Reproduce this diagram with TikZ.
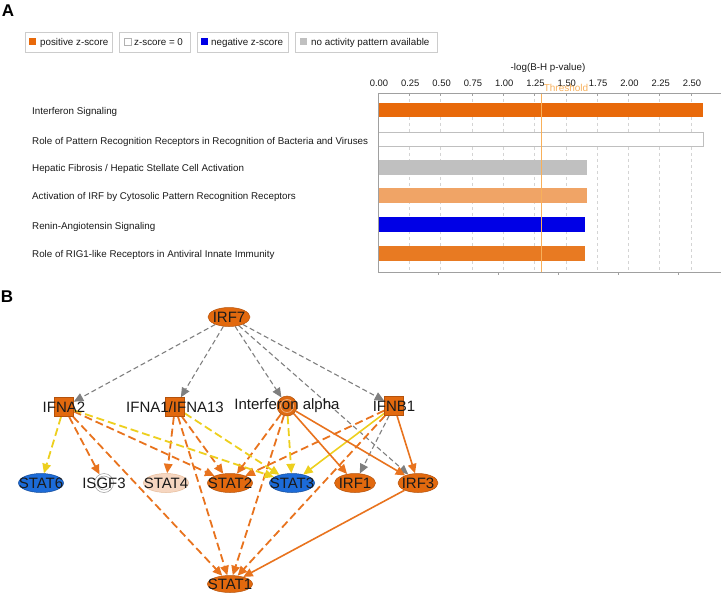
\documentclass[tikz,border=0pt]{standalone}
\usepackage{fontspec}
\setmainfont{Liberation Sans}
\usetikzlibrary{arrows.meta,shapes.geometric}
\pgfdeclarelayer{edges}
\pgfsetlayers{edges,main}
\definecolor{ipaorange}{HTML}{E2690E}
\definecolor{ipaedge}{HTML}{B4520C}
\definecolor{edgeorange}{HTML}{E8731E}
\definecolor{edgeyellow}{HTML}{EDCF1E}
\definecolor{edgegray}{HTML}{7F7F7F}
\definecolor{nodeblue}{HTML}{1C6BD8}
\definecolor{peach}{HTML}{F6D6C0}
\definecolor{barorange}{HTML}{E8690A}
\definecolor{barlight}{HTML}{F0A466}
\definecolor{barblue}{HTML}{0000E6}
\definecolor{bargray}{HTML}{C0C0C0}
\definecolor{barsix}{HTML}{E87A22}
\definecolor{thresh}{HTML}{F8B05A}
\definecolor{gridgray}{HTML}{D4D4D4}
\definecolor{axisgray}{HTML}{A0A0A0}
\definecolor{textdark}{HTML}{1A1A1A}
\tikzset{
  paneltag/.style={font=\fontsize{17}{19}\selectfont\bfseries, inner sep=0pt},
  smalltext/.style={font=\fontsize{9.8}{11}\selectfont, inner sep=0pt, text=textdark},
  ticktext/.style={font=\fontsize{9.4}{11}\selectfont, inner sep=0pt, text=textdark},
  legendframe/.style={draw=gray!40, line width=0.9pt, fill=white},
  every label/.style={font=\fontsize{15}{17}\selectfont, text=textdark, inner sep=0pt},
  ovalnode/.style={ellipse, minimum width=45pt, minimum height=19pt, inner sep=0pt, line width=0.5pt},
  orangeoval/.style={ovalnode, fill=ipaorange, draw=ipaedge},
  blueoval/.style={ovalnode, fill=nodeblue, draw=nodeblue!70!black},
  sqnode/.style={rectangle, minimum size=19pt, inner sep=0pt, fill=ipaorange, draw=ipaedge, line width=0.5pt},
  tip/.style={-{Triangle[length=9.5pt,width=8.5pt]}},
  grayedge/.style={tip, draw=edgegray, line width=1.1pt, dash pattern=on 5pt off 3pt},
  oradash/.style={tip, draw=edgeorange, line width=1.8pt, dash pattern=on 8pt off 4pt},
  orasolid/.style={tip, draw=edgeorange, line width=1.6pt},
  yeldash/.style={tip, draw=edgeyellow, line width=1.8pt, dash pattern=on 8pt off 4pt},
  yelsolid/.style={tip, draw=edgeyellow, line width=1.6pt},
}
\begin{document}
\begin{tikzpicture}[x=1pt,y=-1pt]
\useasboundingbox (0,0) rectangle (722,596);
% ---------------- Panel A ----------------
\node[paneltag, anchor=center] (tagA) at (8,11) {A};
% legend
\draw[legendframe] (25,32) rectangle (112,52);
\fill[barorange] (29,38) rectangle (36,45);
\node[smalltext, anchor=west] (lg1) at (40,42.5) {positive z-score};
\draw[legendframe] (119,32) rectangle (190,52);
\draw[gray!60, fill=white, line width=0.5pt] (124,38) rectangle (131,45);
\node[smalltext, anchor=west] (lg2) at (134,42.5) {z-score = 0};
\draw[legendframe] (197,32) rectangle (288,52);
\fill[barblue] (201,38) rectangle (208,45);
\node[smalltext, anchor=west] (lg3) at (211,42.5) {negative z-score};
\draw[legendframe] (295,32) rectangle (437,52);
\fill[bargray] (300,38) rectangle (307,45);
\node[smalltext, anchor=west] (lg4) at (311,42.5) {no activity pattern available};
% axis title and ticks
\node[smalltext] (axtitle) at (548,68) {-log(B-H p-value)};
\foreach \v [count=\k from 0] in {0.00,0.25,0.50,0.75,1.00,1.25,1.50,1.75,2.00,2.25,2.50}{
  \node[ticktext] (tk\k) at (379+31.3*\k,83) {\v};
}
% grid
\foreach \k in {1,...,10}{
  \draw[gridgray, dashed, line width=0.5pt] (378+31.3*\k,93) -- (378+31.3*\k,272);
  \draw[axisgray, line width=0.6pt] (378+31.3*\k,93) -- (378+31.3*\k,96);
}
\foreach \k in {1,...,5}{
  \draw[axisgray, line width=0.6pt] (378+60*\k,272) -- (378+60*\k,275);
}
% bars
\fill[barorange] (378,103) rectangle (703,117);
\draw[gray!50, fill=white, line width=0.7pt] (378,132) rectangle (703,146);
\fill[bargray] (378,160) rectangle (587,175);
\fill[barlight] (378,188) rectangle (587,203);
\fill[barblue] (378,217) rectangle (585,232);
\fill[barsix] (378,246) rectangle (585,261);
% threshold
\draw[thresh, line width=0.8pt] (541,93) -- (541,272);
\node[font=\fontsize{10}{12}\selectfont, text=thresh, inner sep=0pt] (thr) at (566,88) {Threshold};
% axes
\draw[axisgray, line width=0.8pt] (378,93) -- (721,93);
\draw[axisgray, line width=0.8pt] (378,93) -- (378,272) -- (721,272);
% row labels
\node[smalltext, anchor=west] (r1) at (32,112) {Interferon Signaling};
\node[smalltext, anchor=west] (r2) at (32,142) {Role of Pattern Recognition Receptors in Recognition of Bacteria and Viruses};
\node[smalltext, anchor=west] (r3) at (32,169) {Hepatic Fibrosis / Hepatic Stellate Cell Activation};
\node[smalltext, anchor=west] (r4) at (32,197) {Activation of IRF by Cytosolic Pattern Recognition Receptors};
\node[smalltext, anchor=west] (r5) at (32,227) {Renin-Angiotensin Signaling};
\node[smalltext, anchor=west] (r6) at (32,255) {Role of RIG1-like Receptors in Antiviral Innate Immunity};
% ---------------- Panel B ----------------
\node[paneltag, anchor=center] (tagB) at (7,297) {B};
\node[orangeoval, minimum width=42pt, label={center:IRF7}] (irf7) at (229,317) {};
\node[sqnode, label={center:IFNA2}] (ifna2) at (64,407) {};
\node[sqnode, label={center:IFNA1/IFNA13}] (ifna1) at (175,407) {};
\node[circle, minimum size=20pt, inner sep=0pt, fill=ipaorange!90!brown, draw=ipaedge, line width=0.5pt,
      path picture={\draw[ipaorange!55!white, line width=0.8pt] (path picture bounding box.center) circle (6.5pt);},
      label={center:Interferon alpha}] (ifnalpha) at (287,406) {};
\node[sqnode, label={center:IFNB1}] (ifnb1) at (394,406) {};
\node[blueoval, label={center:STAT6}] (stat6) at (41,483) {};
\node[circle, minimum size=19pt, inner sep=0pt, fill=white, draw=gray!80, line width=0.5pt,
      path picture={\draw[gray!80, line width=0.5pt] (path picture bounding box.center) circle (7pt);},
      label={center:ISGF3}] (isgf3) at (104,483) {};
\node[ovalnode, fill=peach, draw=peach!70!brown, label={center:STAT4}] (stat4) at (166,483) {};
\node[orangeoval, label={center:STAT2}] (stat2) at (230,483) {};
\node[blueoval, label={center:STAT3}] (stat3) at (292,483) {};
\node[orangeoval, minimum width=41pt, label={center:IRF1}] (irf1) at (355,483) {};
\node[orangeoval, minimum width=40pt, label={center:IRF3}] (irf3) at (418,483) {};
\node[orangeoval, minimum height=17pt, label={center:STAT1}] (stat1) at (230,584) {};
\begin{pgfonlayer}{edges}
% gray dashed
\draw[grayedge] (irf7) -- (ifna2);
\draw[grayedge] (irf7) -- (ifna1);
\draw[grayedge] (irf7) -- (ifnalpha);
\draw[grayedge] (irf7) -- (ifnb1);
\draw[grayedge] (irf7) -- (irf3);
\draw[grayedge] (ifnb1) -- (irf1);
% orange dashed
\draw[oradash] (ifna2) -- (isgf3);
\draw[oradash] (ifna2) -- (stat2);
\draw[oradash] (ifna2) -- (stat1);
\draw[oradash] (ifna1) -- (stat4);
\draw[oradash] (ifna1) -- (stat2);
\draw[oradash] (ifna1) -- (stat1);
\draw[oradash] (ifnalpha) -- (stat2);
\draw[oradash] (ifnalpha) -- (stat1);
\draw[oradash] (ifnb1) -- (stat2);
\draw[oradash] (ifnb1) -- (stat1);
% yellow
\draw[yeldash] (ifna2) -- (stat6);
\draw[yeldash] (ifna2) -- (stat3);
\draw[yeldash] (ifna1) -- (stat3);
\draw[yeldash] (ifnalpha) -- (stat3);
\draw[yelsolid] (ifnb1) -- (stat3);
% orange solid
\draw[orasolid] (ifnalpha) -- (irf1);
\draw[orasolid] (ifnalpha) -- (irf3);
\draw[orasolid] (ifnb1) -- (irf3);
\draw[orasolid] (irf3) -- (stat1);
\end{pgfonlayer}
\end{tikzpicture}
\end{document}
